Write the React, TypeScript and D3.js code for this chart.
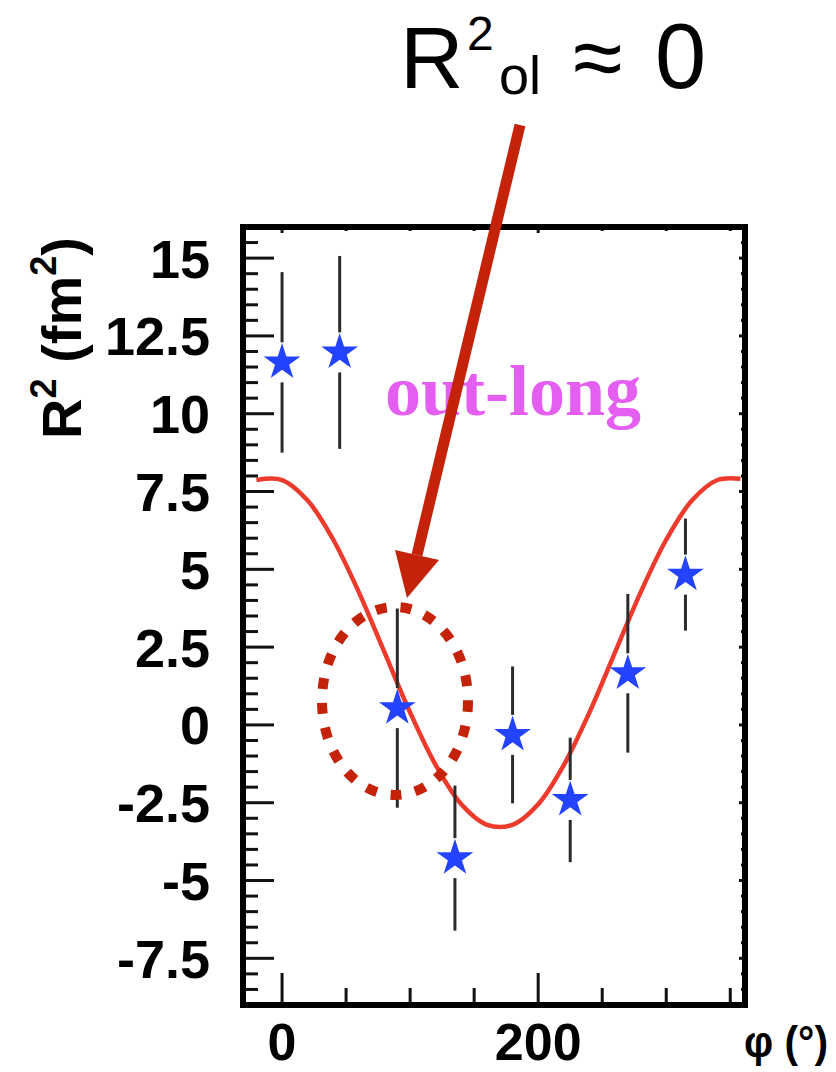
import * as d3 from 'd3';
import React from 'react';

// measured points (phi in degrees, R^2 in fm^2)
const phiValues = [0, 45, 90, 135, 180, 225, 270, 315];
const r2Values = [11.65, 11.97, 0.54, -4.28, -0.32, -2.41, 1.66, 4.83];
const r2Errors = [2.9, 3.1, 3.2, 2.33, 2.2, 2.0, 2.55, 1.8];

// fit curve
const fitPhi = [-20, 0, 20, 40, 60, 80, 100, 120, 140, 160, 180, 200, 220, 240, 260, 280, 300, 320, 340, 358];
const fitR2 = [7.87, 7.87, 7.21, 5.95, 4.26, 2.33, 0.4, -1.29, -2.55, -3.21, -3.21, -2.55, -1.29, 0.4, 2.33, 4.26, 5.95, 7.21, 7.87, 7.91];

const yTickLabels = ['-7.5', '-5', '-2.5', '0', '2.5', '5', '7.5', '10', '12.5', '15'];
const xTickLabels = ['0', '200'];
const xMinorTicks = [50, 100, 150, 250, 300, 350];

const W = 836;
const H = 1072;
const left = 243, right = 745, top = 227, bottom = 1005;
const sans = '"Liberation Sans", Arial, Helvetica, sans-serif';
const arrowRed = '#c4230a';

const App: React.FC = () => {
  const x = d3.scaleLinear().domain([-30.5, 361.5]).range([left, right]);
  const y = d3.scaleLinear().domain([-9, 16]).range([bottom, top]);

  const yMajor = yTickLabels.map(Number);
  const yMinor = d3.range(-9, 16.01, 0.5).filter(v => !yMajor.some(m => Math.abs(m - v) < 1e-6));

  const fitLine = d3.line<number>()
    .x((_, i) => x(fitPhi[i]))
    .y(d => y(d))
    .curve(d3.curveCatmullRom)(fitR2) ?? '';

  const star = d3.symbol().type(d3.symbolStar).size(420)() ?? '';
  const gap = 20;

  // arrow geometry
  const tail: [number, number] = [520, 125];
  const tip: [number, number] = [407, 598];
  const headA: [number, number] = [395, 550];
  const headB: [number, number] = [439, 560];
  const baseMid: [number, number] = [(headA[0] + headB[0]) / 2, (headA[1] + headB[1]) / 2];

  return (
    <div style={{ position: 'absolute', left: 0, top: 0 }}>
      <svg width={W} height={H} style={{ display: 'block', background: '#fff' }}>
        {/* fit curve */}
        <path d={fitLine} fill="none" stroke="#ec3b2c" strokeWidth={4.5} />

        {/* error bars with a gap around the marker */}
        {phiValues.map((p, i) => {
          const cx = x(p);
          const cy = y(r2Values[i]);
          const hi = y(r2Values[i] + r2Errors[i]);
          const lo = y(r2Values[i] - r2Errors[i]);
          return (
            <g key={'e' + i} stroke="#2b2b2b" strokeWidth={3}>
              <line x1={cx} x2={cx} y1={hi} y2={cy - gap} />
              <line x1={cx} x2={cx} y1={cy + gap} y2={lo} />
            </g>
          );
        })}
        {phiValues.map((p, i) => (
          <path key={'s' + i} d={star} transform={`translate(${x(p)},${y(r2Values[i])})`} fill="#2443ff" />
        ))}

        {/* frame ticks */}
        {yMajor.map(v => (
          <g key={'ym' + v} stroke="#111" strokeWidth={3}>
            <line x1={left} x2={left + 31} y1={y(v)} y2={y(v)} />
            <line x1={right} x2={right - 6} y1={y(v)} y2={y(v)} />
          </g>
        ))}
        {yMinor.map(v => (
          <g key={'yn' + v} stroke="#111" strokeWidth={3}>
            <line x1={left} x2={left + 15} y1={y(v)} y2={y(v)} />
            <line x1={right} x2={right - 4} y1={y(v)} y2={y(v)} />
          </g>
        ))}
        {xTickLabels.map(Number).map(v => (
          <g key={'xm' + v} stroke="#111" strokeWidth={3}>
            <line x1={x(v)} x2={x(v)} y1={bottom} y2={bottom - 32} />
            <line x1={x(v)} x2={x(v)} y1={top} y2={top + 6} />
          </g>
        ))}
        {xMinorTicks.map(v => (
          <g key={'xn' + v} stroke="#111" strokeWidth={3}>
            <line x1={x(v)} x2={x(v)} y1={bottom} y2={bottom - 17} />
            <line x1={x(v)} x2={x(v)} y1={top} y2={top + 4} />
          </g>
        ))}
        <rect x={left} y={top} width={right - left} height={bottom - top} fill="none" stroke="#000" strokeWidth={6} />

        {/* tick labels */}
        {yTickLabels.map(t => (
          <text key={'yl' + t} x={210} y={y(Number(t))} dy="0.36em" textAnchor="end"
            fontFamily={sans} fontWeight="bold" fontSize={54} fill="#000">{t}</text>
        ))}
        {xTickLabels.map(t => (
          <text key={'xl' + t} x={x(Number(t))} y={1060} textAnchor="middle"
            fontFamily={sans} fontWeight="bold" fontSize={52} fill="#000">{t}</text>
        ))}

        {/* axis titles */}
        <text x={744} y={1057} fontFamily={sans} fontWeight="bold" fontSize={44} fill="#000"
          textLength={84} lengthAdjust="spacingAndGlyphs">φ (°)</text>
        <text transform="translate(81,338) rotate(-90)" textAnchor="middle"
          fontFamily={sans} fontWeight="bold" fontSize={56} fill="#000">
          R<tspan fontSize={36} dy={-25}>2</tspan><tspan dy={25}> (fm</tspan><tspan fontSize={36} dy={-25}>2</tspan><tspan dy={25}>)</tspan>
        </text>

        {/* label inside the plot */}
        <text x={385} y={415} fontFamily='"Liberation Serif", "Times New Roman", serif' fontWeight="bold"
          fontSize={72} fill="#e45ef2">out-long</text>

        {/* annotation */}
        <ellipse cx={395} cy={701} rx={73} ry={94} fill="none" stroke={arrowRed} strokeWidth={10} strokeDasharray="11 14" />
        <line x1={tail[0]} y1={tail[1]} x2={baseMid[0]} y2={baseMid[1]} stroke={arrowRed} strokeWidth={11} />
        <polygon points={[headA, headB, tip].map(p => p.join(',')).join(' ')} fill={arrowRed} />

        <text fontFamily={sans} fill="#000">
          <tspan x={400} y={88} fontSize={88}>R</tspan>
          <tspan x={467} y={50} fontSize={48}>2</tspan>
          <tspan x={499} y={94} fontSize={54}>ol</tspan>
          <tspan x={573} y={88} fontSize={90}>≈</tspan>
          <tspan x={655} y={88} fontSize={92}>0</tspan>
        </text>
      </svg>
    </div>
  );
};

export default App;
